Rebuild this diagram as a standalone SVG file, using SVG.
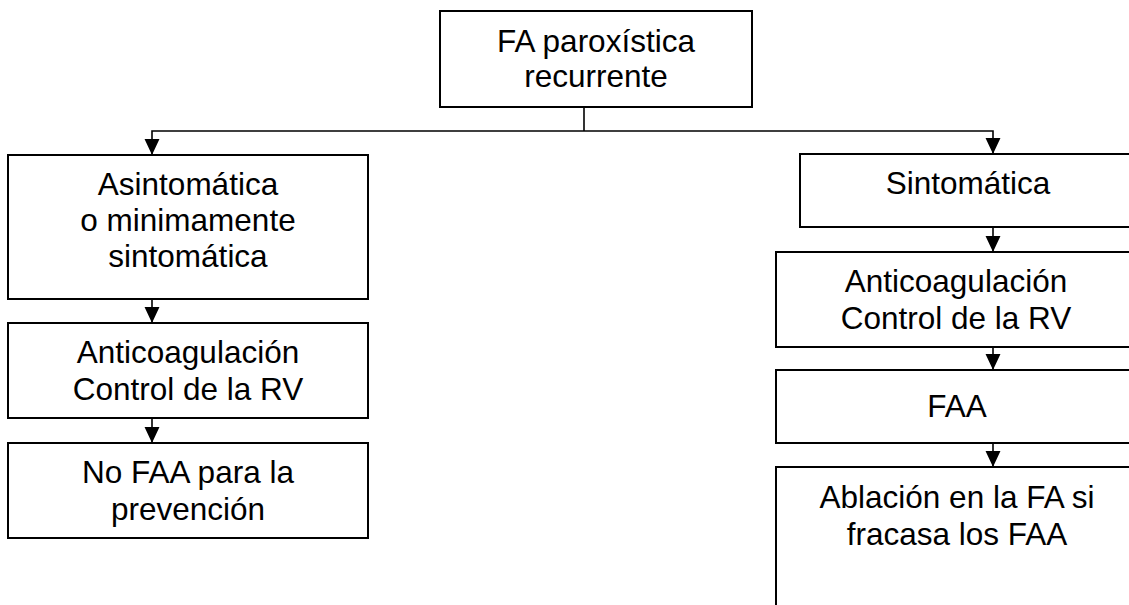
<svg xmlns="http://www.w3.org/2000/svg" width="1129" height="605" viewBox="0 0 1129 605">
<style>
.box{fill:#fff;stroke:#000;stroke-width:2}
.t{font-family:"Liberation Sans",Arial,sans-serif;font-size:31.5px;fill:#000;text-anchor:middle}
.c{fill:none;stroke:#000;stroke-width:1.6}
</style>
<defs>
<marker id="ah" markerUnits="userSpaceOnUse" markerWidth="16" markerHeight="16" viewBox="0 0 15 14" refX="15" refY="7" orient="auto-start-reverse">
<path d="M0,0 L15,7 L0,14 Z" fill="#000"/>
</marker>
</defs>
<rect width="1129" height="605" fill="#fff"/>
<g id="n-top">
<rect class="box" x="440" y="11" width="312" height="96"/>
<text class="t" x="596" y="52">FA paroxística</text>
<text class="t" x="596" y="87">recurrente</text>
</g>
<g id="n-asint">
<rect class="box" x="8" y="155" width="360" height="144"/>
<text class="t" x="188" y="195">Asintomática</text>
<text class="t" x="188" y="231">o minimamente</text>
<text class="t" x="188" y="267">sintomática</text>
</g>
<g id="n-anticoag-l">
<rect class="box" x="8" y="323" width="360" height="95"/>
<text class="t" x="188" y="363">Anticoagulación</text>
<text class="t" x="188" y="400">Control de la RV</text>
</g>
<g id="n-nofaa">
<rect class="box" x="8" y="443" width="360" height="95"/>
<text class="t" x="188" y="483">No FAA para la</text>
<text class="t" x="188" y="520">prevención</text>
</g>
<g id="n-sint">
<rect class="box" x="800" y="154" width="340" height="73"/>
<text class="t" x="968" y="194">Sintomática</text>
</g>
<g id="n-anticoag-r">
<rect class="box" x="776" y="252" width="364" height="95"/>
<text class="t" x="956" y="292">Anticoagulación</text>
<text class="t" x="956" y="329">Control de la RV</text>
</g>
<g id="n-faa">
<rect class="box" x="776" y="370" width="364" height="73"/>
<text class="t" x="957" y="417">FAA</text>
</g>
<g id="n-ablacion">
<rect class="box" x="776" y="467" width="364" height="160"/>
<text class="t" x="957" y="508">Ablación en la FA si</text>
<text class="t" x="957" y="545">fracasa los FAA</text>
</g>
<g id="connectors">
<path class="c" d="M584,107 V131"/>
<path class="c" d="M152,155 V131 H993 V154" marker-start="url(#ah)" marker-end="url(#ah)"/>
<path class="c" d="M152,299 V323" marker-end="url(#ah)"/>
<path class="c" d="M152,418 V443" marker-end="url(#ah)"/>
<path class="c" d="M993,227 V252" marker-end="url(#ah)"/>
<path class="c" d="M993,347 V370" marker-end="url(#ah)"/>
<path class="c" d="M993,443 V467" marker-end="url(#ah)"/>
</g>
</svg>
